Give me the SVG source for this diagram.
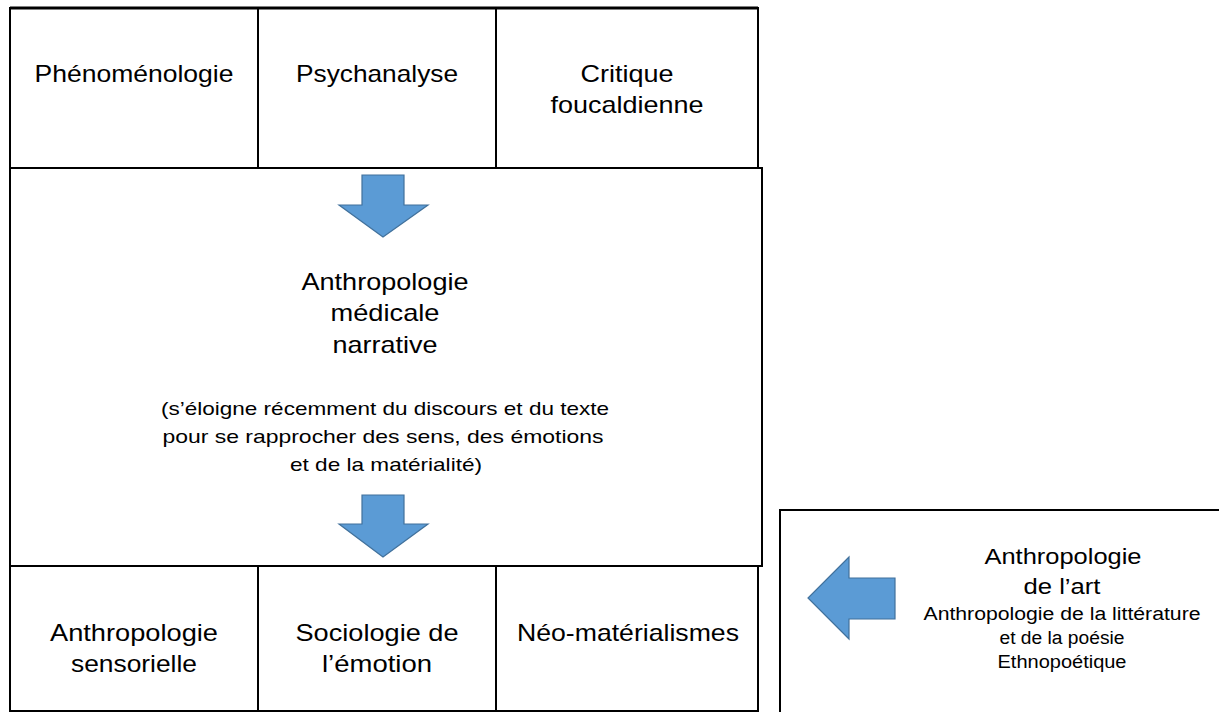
<svg xmlns="http://www.w3.org/2000/svg" width="1219" height="712" viewBox="0 0 1219 712">
<style>
.box{fill:#fff;stroke:#000;stroke-width:2}
.arr{fill:#5B9BD5;stroke:#41719C;stroke-width:1.2}
text{font-family:"Liberation Sans",Arial,sans-serif;fill:#000;text-anchor:middle}
.big{font-size:24px}
.mid{font-size:22px}
.sm{font-size:19px}
.xs{font-size:18px}
</style>
<rect x="0" y="0" width="1219" height="712" fill="#fff"/>
<g id="middle">
<rect class="box" x="10" y="168" width="752" height="398"/>
<text class="big" x="385" y="290" textLength="167" lengthAdjust="spacingAndGlyphs">Anthropologie</text>
<text class="big" x="385" y="321" textLength="109" lengthAdjust="spacingAndGlyphs">médicale</text>
<text class="big" x="385" y="353" textLength="105" lengthAdjust="spacingAndGlyphs">narrative</text>
<text class="sm" x="385" y="415" textLength="448" lengthAdjust="spacingAndGlyphs">(s’éloigne récemment du discours et du texte</text>
<text class="sm" x="383" y="443" textLength="441" lengthAdjust="spacingAndGlyphs">pour se rapprocher des sens, des émotions</text>
<text class="sm" x="386" y="471" textLength="192" lengthAdjust="spacingAndGlyphs">et de la matérialité)</text>
</g>
<g id="phenomenologie">
<rect class="box" x="10" y="8" width="248" height="160"/>
<text class="big" x="134" y="82" textLength="199" lengthAdjust="spacingAndGlyphs">Phénoménologie</text>
</g>
<g id="psychanalyse">
<rect class="box" x="258" y="8" width="238" height="160"/>
<text class="big" x="377" y="82" textLength="162" lengthAdjust="spacingAndGlyphs">Psychanalyse</text>
</g>
<g id="critique">
<rect class="box" x="496" y="8" width="262" height="160"/>
<text class="big" x="627" y="82" textLength="93" lengthAdjust="spacingAndGlyphs">Critique</text>
<text class="big" x="627" y="113" textLength="153" lengthAdjust="spacingAndGlyphs">foucaldienne</text>
</g>
<line x1="10" y1="8" x2="758" y2="8" stroke="#000" stroke-width="3"/>
<g id="sensorielle">
<rect class="box" x="10" y="566" width="248" height="145"/>
<text class="big" x="134" y="641" textLength="168" lengthAdjust="spacingAndGlyphs">Anthropologie</text>
<text class="big" x="134" y="672" textLength="126" lengthAdjust="spacingAndGlyphs">sensorielle</text>
</g>
<g id="emotion">
<rect class="box" x="258" y="566" width="238" height="145"/>
<text class="big" x="377" y="641" textLength="163" lengthAdjust="spacingAndGlyphs">Sociologie de</text>
<text class="big" x="377" y="672" textLength="110" lengthAdjust="spacingAndGlyphs">l’émotion</text>
</g>
<g id="neomaterialismes">
<rect class="box" x="496" y="566" width="262" height="145"/>
<text class="big" x="628" y="641" textLength="222" lengthAdjust="spacingAndGlyphs">Néo-matérialismes</text>
</g>
<g id="art">
<rect class="box" x="780" y="510" width="460" height="220"/>
<text class="mid" x="1063" y="564" textLength="157" lengthAdjust="spacingAndGlyphs">Anthropologie</text>
<text class="mid" x="1062" y="594" textLength="77" lengthAdjust="spacingAndGlyphs">de l’art</text>
<text class="xs" x="1062" y="620" textLength="277" lengthAdjust="spacingAndGlyphs">Anthropologie de la littérature</text>
<text class="xs" x="1062" y="644" textLength="125" lengthAdjust="spacingAndGlyphs">et de la poésie</text>
<text class="xs" x="1062" y="668" textLength="129" lengthAdjust="spacingAndGlyphs">Ethnopoétique</text>
</g>
<g id="connectors">
<polygon class="arr" points="362,175 404,175 404,205 428,205 383,237 339,205 362,205"/>
<polygon class="arr" points="362,495 404,495 404,524 428,524 383,557 339,524 362,524"/>
<polygon class="arr" points="895,578 895,619 849,619 849,639 808,598 849,557 849,578"/>
</g>
</svg>
